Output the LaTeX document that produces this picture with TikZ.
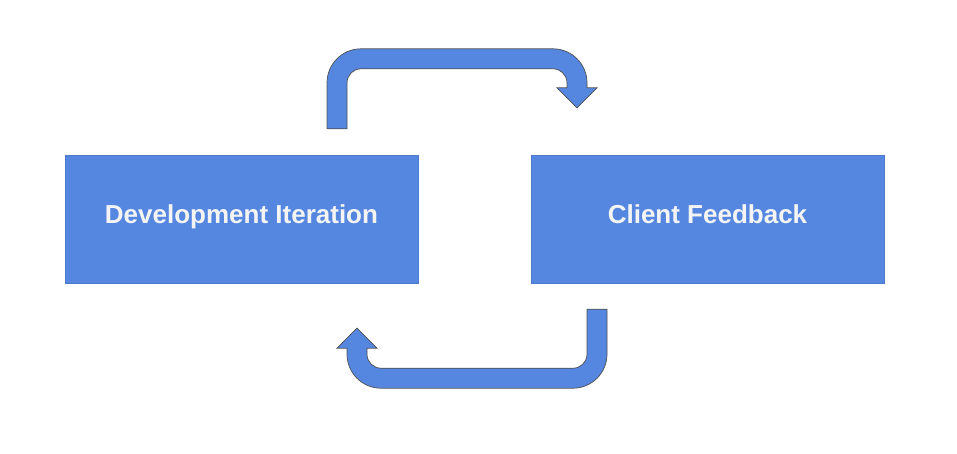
\documentclass[tikz,border=0pt]{standalone}
\usepackage{fontspec}
\setmainfont{Liberation Sans}
\definecolor{boxblue}{HTML}{5587E0}
\definecolor{outline}{HTML}{505050}
\definecolor{labeltext}{HTML}{F4F4F4}
\begin{document}
\begin{tikzpicture}[x=1pt,y=-1pt,
  stagebox/.style={rectangle, fill=boxblue, draw=boxblue!90!black, line width=0.4pt,
    minimum width=353pt, minimum height=128pt, inner sep=0pt,
    text height=18.6pt, text depth=10.6pt,
    text=labeltext, font=\fontsize{26}{30}\selectfont\bfseries},
  looparrow/.style={fill=boxblue, draw=outline, line width=0.7pt, line join=miter}]
  \useasboundingbox (0,0) rectangle (957,453);
  \fill[white] (0,0) rectangle (957,453);

  % the two stages
  \node[stagebox] (dev) at (241.5,219) {Development Iteration};
  \node[stagebox] (client) at (707.5,219) {Client Feedback};

  % anchor points of the two curved block arrows
  \coordinate (topstart) at (dev.north -| 337,0);
  \coordinate (botstart) at (client.south -| 597,0);

  % upper arrow: from the development stage over to the client
  \path[looparrow] ([xshift=-10pt,yshift=26pt]topstart) -- ++(0,-46)
    arc[start angle=180, end angle=90, radius=34pt] -- ++(192,0)
    arc[start angle=90, end angle=0, radius=34pt] -- ++(0,5)
    -- ++(10,0) -- ++(-20,20) -- ++(-20,-20) -- ++(10,0) -- ++(0,-5)
    arc[start angle=0, end angle=90, radius=14pt] -- ++(-192,0)
    arc[start angle=90, end angle=180, radius=14pt] -- ++(0,46) -- cycle;

  % lower arrow: from the client back to the development stage
  \path[looparrow] ([xshift=-10pt,yshift=-26pt]botstart) -- ++(0,45)
    arc[start angle=0, end angle=-90, radius=14pt] -- ++(-192,0)
    arc[start angle=-90, end angle=-180, radius=14pt] -- ++(0,-6)
    -- ++(10,0) -- ++(-20,-20) -- ++(-20,20) -- ++(10,0) -- ++(0,6)
    arc[start angle=180, end angle=270, radius=34pt] -- ++(192,0)
    arc[start angle=270, end angle=360, radius=34pt] -- ++(0,-45) -- cycle;
\end{tikzpicture}
\end{document}
